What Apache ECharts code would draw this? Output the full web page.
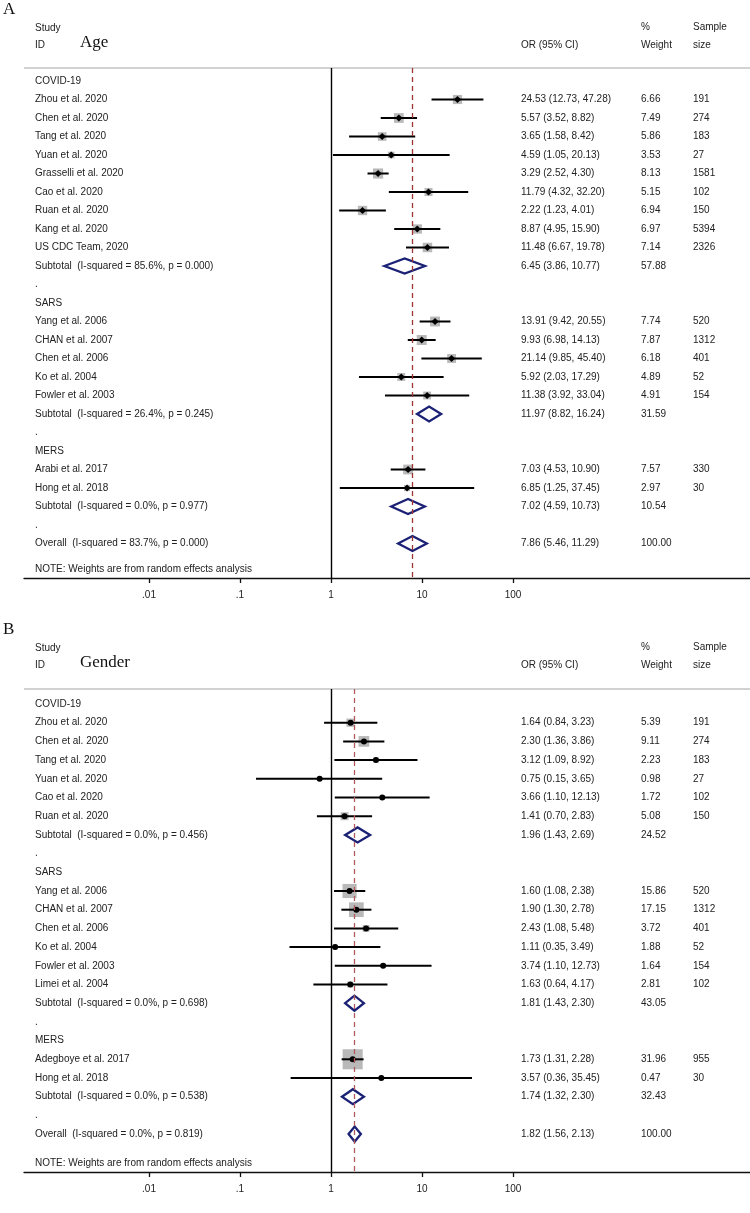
<!DOCTYPE html>
<html><head><meta charset="utf-8">
<script src="https://cdn.jsdelivr.net/npm/echarts@6/dist/echarts.min.js"></script>
<style>html,body{margin:0;padding:0;background:#fff}#c{width:750px;height:1213px}</style>
</head><body><div id="c"></div>
<script>
// ---------- data ----------
const tickValues = [0.01, 0.1, 1, 10, 100];
const tickLabels = ['.01', '.1', '1', '10', '100'];

// Panel A (Age)
const kindA = ['group','study','study','study','study','study','study','study','study','study','sub','blank','group','study','study','study','study','study','sub','blank','group','study','study','sub','blank','overall'];
const labelA = ['COVID-19','Zhou et al. 2020','Chen et al. 2020','Tang et al. 2020','Yuan et al. 2020','Grasselli et al. 2020','Cao et al. 2020','Ruan et al. 2020','Kang et al. 2020','US CDC Team, 2020','Subtotal  (I-squared = 85.6%, p = 0.000)','.','SARS','Yang et al. 2006','CHAN et al. 2007','Chen et al. 2006','Ko et al. 2004','Fowler et al. 2003','Subtotal  (I-squared = 26.4%, p = 0.245)','.','MERS','Arabi et al. 2017','Hong et al. 2018','Subtotal  (I-squared = 0.0%, p = 0.977)','.','Overall  (I-squared = 83.7%, p = 0.000)'];
const orA = [null,24.53,5.57,3.65,4.59,3.29,11.79,2.22,8.87,11.48,6.45,null,null,13.91,9.93,21.14,5.92,11.38,11.97,null,null,7.03,6.85,7.02,null,7.86];
const loA = [null,12.73,3.52,1.58,1.05,2.52,4.32,1.23,4.95,6.67,3.86,null,null,9.42,6.98,9.85,2.03,3.92,8.82,null,null,4.53,1.25,4.59,null,5.46];
const hiA = [null,47.28,8.82,8.42,20.13,4.30,32.20,4.01,15.90,19.78,10.77,null,null,20.55,14.13,45.40,17.29,33.04,16.24,null,null,10.90,37.45,10.73,null,11.29];
const wA = [null,6.66,7.49,5.86,3.53,8.13,5.15,6.94,6.97,7.14,57.88,null,null,7.74,7.87,6.18,4.89,4.91,31.59,null,null,7.57,2.97,10.54,null,100.00];
const nA = [null,191,274,183,27,1581,102,150,5394,2326,null,null,null,520,1312,401,52,154,null,null,null,330,30,null,null,null];

// Panel B (Gender)
const kindB = ['group','study','study','study','study','study','study','sub','blank','group','study','study','study','study','study','study','sub','blank','group','study','study','sub','blank','overall'];
const labelB = ['COVID-19','Zhou et al. 2020','Chen et al. 2020','Tang et al. 2020','Yuan et al. 2020','Cao et al. 2020','Ruan et al. 2020','Subtotal  (I-squared = 0.0%, p = 0.456)','.','SARS','Yang et al. 2006','CHAN et al. 2007','Chen et al. 2006','Ko et al. 2004','Fowler et al. 2003','Limei et al. 2004','Subtotal  (I-squared = 0.0%, p = 0.698)','.','MERS','Adegboye et al. 2017','Hong et al. 2018','Subtotal  (I-squared = 0.0%, p = 0.538)','.','Overall  (I-squared = 0.0%, p = 0.819)'];
const orB = [null,1.64,2.30,3.12,0.75,3.66,1.41,1.96,null,null,1.60,1.90,2.43,1.11,3.74,1.63,1.81,null,null,1.73,3.57,1.74,null,1.82];
const loB = [null,0.84,1.36,1.09,0.15,1.10,0.70,1.43,null,null,1.08,1.30,1.08,0.35,1.10,0.64,1.43,null,null,1.31,0.36,1.32,null,1.56];
const hiB = [null,3.23,3.86,8.92,3.65,12.13,2.83,2.69,null,null,2.38,2.78,5.48,3.49,12.73,4.17,2.30,null,null,2.28,35.45,2.30,null,2.13];
const wB = [null,5.39,9.11,2.23,0.98,1.72,5.08,24.52,null,null,15.86,17.15,3.72,1.88,1.64,2.81,43.05,null,null,31.96,0.47,32.43,null,100.00];
const nB = [null,191,274,183,27,102,150,null,null,null,520,1312,401,52,154,102,null,null,null,955,30,null,null,null];

// ---------- layout (pixels) ----------
const TXT = '#222';
const FONT = '10px "Liberation Sans", Arial, sans-serif';
const SERIF = '"Liberation Serif", "Times New Roman", serif';
const COLX = {label: 35, ci: 521, w: 641, n: 693};

const panels = [
  {letter:'A', title:'Age', kind:kindA, label:labelA, or:orA, lo:loA, hi:hiA, w:wA, n:nA,
   top:0, grayY:68, row0:81, step:18.5, axisY:578, marker:'diamond', dash:'#9c3434'},
  {letter:'B', title:'Gender', kind:kindB, label:labelB, or:orB, lo:loB, hi:hiB, w:wB, n:nB,
   top:620, grayY:689, row0:704, step:18.7, axisY:1172, marker:'circle', dash:'#b05a5e'}
];

const xMinLog = (24 - 331) / 91, xMaxLog = (750 - 331) / 91;

const grids = [], xAxes = [], yAxes = [], series = [], graphics = [];

panels.forEach((p, pi) => {
  grids.push({left: 24, right: 0, top: p.grayY, height: p.axisY - p.grayY});
  xAxes.push({
    type: 'log', gridIndex: pi, logBase: 10, position: 'bottom',
    min: Math.pow(10, xMinLog), max: Math.pow(10, xMaxLog),
    splitLine: {show: false},
    axisLine: {show: true, onZero: false, lineStyle: {color: '#111', width: 1.3}},
    axisTick: {show: true, customValues: tickValues, length: 5, lineStyle: {color: '#111', width: 1.3}},
    axisLabel: {show: true, customValues: tickValues, margin: 12, color: TXT,
      fontFamily: '"Liberation Sans", Arial, sans-serif', fontSize: 10,
      formatter: v => { const k = Math.round(Math.log10(v)) + 2; return tickLabels[k] || ''; }},
    minorTick: {show: false}
  });
  yAxes.push({
    type: 'value', gridIndex: pi, inverse: true, show: false,
    min: (p.grayY - p.row0) / p.step, max: (p.axisY - p.row0) / p.step
  });

  const studies = [], diamonds = [], rows = [];
  p.kind.forEach((k, i) => {
    rows.push([1, i]);
    if (k === 'study') studies.push([p.or[i], i, p.lo[i], p.hi[i], p.w[i]]);
    if (k === 'sub' || k === 'overall') diamonds.push([p.or[i], i, p.lo[i], p.hi[i]]);
  });
  const overallIdx = p.kind.indexOf('overall');

  // studies: weight box + CI line + point
  series.push({
    type: 'custom', xAxisIndex: pi, yAxisIndex: pi, clip: false, z: 3,
    encode: {x: 0, y: 1},
    data: studies,
    renderItem: (params, api) => {
      const c = api.coord([api.value(0), api.value(1)]);
      const l = api.coord([api.value(2), api.value(1)]);
      const h = api.coord([api.value(3), api.value(1)]);
      const s = 3.55 * Math.sqrt(api.value(4));
      const ch = [
        {type: 'rect', shape: {x: c[0] - s / 2, y: c[1] - s / 2, width: s, height: s}, style: {fill: '#b9b9b9'}},
        {type: 'line', shape: {x1: l[0], y1: c[1], x2: h[0], y2: c[1]}, style: {stroke: '#000', lineWidth: 2}}
      ];
      if (p.marker === 'diamond') {
        const r = 3.6;
        ch.push({type: 'polygon', shape: {points: [[c[0] - r, c[1]], [c[0], c[1] - r], [c[0] + r, c[1]], [c[0], c[1] + r]]}, style: {fill: '#000'}});
      } else {
        ch.push({type: 'circle', shape: {cx: c[0], cy: c[1], r: 3}, style: {fill: '#000'}});
      }
      return {type: 'group', children: ch};
    },
    markLine: {
      silent: true, symbol: 'none', label: {show: false}, animation: false,
      data: [
        {xAxis: 1, lineStyle: {color: '#000', width: 1.4, type: 'solid'}}
      ]
    }
  });

  // pooled diamonds
  series.push({
    type: 'custom', xAxisIndex: pi, yAxisIndex: pi, clip: false, z: 4,
    encode: {x: 0, y: 1},
    data: diamonds,
    renderItem: (params, api) => {
      const c = api.coord([api.value(0), api.value(1)]);
      const l = api.coord([api.value(2), api.value(1)]);
      const h = api.coord([api.value(3), api.value(1)]);
      const hh = 7.5;
      return {type: 'polygon', shape: {points: [[l[0], c[1]], [c[0], c[1] - hh], [h[0], c[1]], [c[0], c[1] + hh]]},
        style: {fill: 'none', stroke: '#1b2175', lineWidth: 2.3}};
    },
    markLine: {
      silent: true, symbol: 'none', label: {show: false}, animation: false, z: 6,
      data: [
        {xAxis: p.or[overallIdx], lineStyle: {color: p.dash, width: 1.3, type: [5, 4]}}
      ]
    }
  });

  // text columns
  series.push({
    type: 'custom', xAxisIndex: pi, yAxisIndex: pi, clip: false, z: 5,
    encode: {x: 0, y: 1},
    data: rows,
    renderItem: (params, api) => {
      const i = params.dataIndex;
      const y = api.coord([1, api.value(1)])[1];
      const ch = [{type: 'text', style: {x: COLX.label, y: y, text: p.label[i], font: FONT, fill: TXT, verticalAlign: 'middle'}}];
      if (p.or[i] != null) {
        const t = p.or[i].toFixed(2) + ' (' + p.lo[i].toFixed(2) + ', ' + p.hi[i].toFixed(2) + ')';
        ch.push({type: 'text', style: {x: COLX.ci, y: y, text: t, font: FONT, fill: TXT, verticalAlign: 'middle'}});
        ch.push({type: 'text', style: {x: COLX.w, y: y, text: p.w[i].toFixed(2), font: FONT, fill: TXT, verticalAlign: 'middle'}});
      }
      if (p.n[i] != null) {
        ch.push({type: 'text', style: {x: COLX.n, y: y, text: String(p.n[i]), font: FONT, fill: TXT, verticalAlign: 'middle'}});
      }
      return {type: 'group', children: ch};
    }
  });

  // headers and decorations
  const t0 = p.top;
  graphics.push(
    {type: 'text', style: {x: 3, y: t0 + 10, text: p.letter, font: '17px ' + SERIF, fill: '#111', verticalAlign: 'middle'}},
    {type: 'text', style: {x: COLX.label, y: t0 + 28, text: 'Study', font: FONT, fill: TXT, verticalAlign: 'middle'}},
    {type: 'text', style: {x: COLX.label, y: t0 + 45, text: 'ID', font: FONT, fill: TXT, verticalAlign: 'middle'}},
    {type: 'text', style: {x: 80, y: t0 + 43, text: p.title, font: '17px ' + SERIF, fill: '#111', verticalAlign: 'middle'}},
    {type: 'text', style: {x: COLX.ci, y: t0 + 45, text: 'OR (95% CI)', font: FONT, fill: TXT, verticalAlign: 'middle'}},
    {type: 'text', style: {x: COLX.w, y: t0 + 27, text: '%', font: FONT, fill: TXT, verticalAlign: 'middle'}},
    {type: 'text', style: {x: COLX.w, y: t0 + 45, text: 'Weight', font: FONT, fill: TXT, verticalAlign: 'middle'}},
    {type: 'text', style: {x: COLX.n, y: t0 + 27, text: 'Sample', font: FONT, fill: TXT, verticalAlign: 'middle'}},
    {type: 'text', style: {x: COLX.n, y: t0 + 45, text: 'size', font: FONT, fill: TXT, verticalAlign: 'middle'}},
    {type: 'line', shape: {x1: 24, y1: p.grayY, x2: 750, y2: p.grayY}, style: {stroke: '#a6a6a6', lineWidth: 1.2}},
    {type: 'text', style: {x: COLX.label, y: p.axisY - 9, text: 'NOTE: Weights are from random effects analysis', font: FONT, fill: TXT, verticalAlign: 'middle'}}
  );
});

const chart = echarts.init(document.getElementById('c'), null, {renderer: 'canvas'});
chart.setOption({
  animation: false,
  backgroundColor: '#fff',
  grid: grids, xAxis: xAxes, yAxis: yAxes, series: series,
  graphic: graphics
});
</script></body></html>
